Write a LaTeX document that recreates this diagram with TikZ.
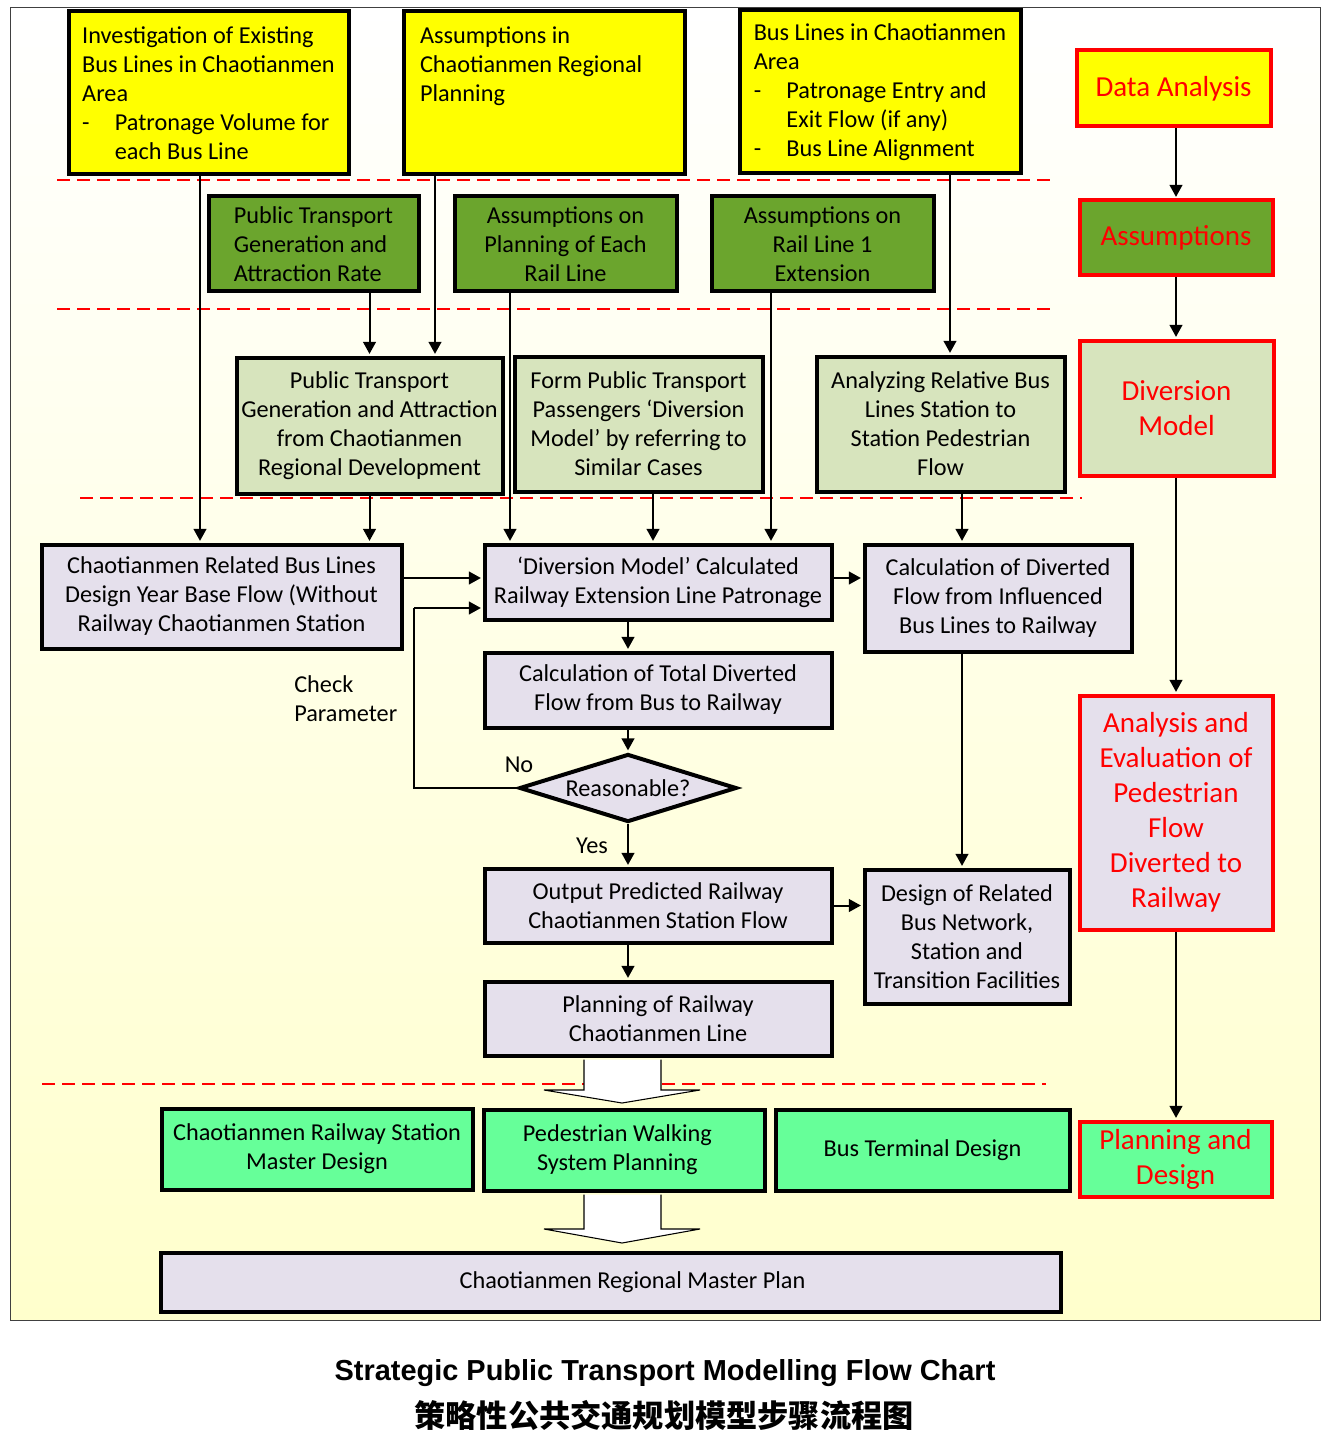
\documentclass[tikz,border=0pt]{standalone}
\usepackage{fontspec}
\setmainfont{Carlito}
\newfontfamily\capfont{Liberation Sans}
\newfontfamily\cjkfont{Noto Sans CJK SC}
\usetikzlibrary{arrows.meta,shapes.geometric,calc}
\definecolor{yel}{RGB}{255,255,0}
\definecolor{dgreen}{RGB}{107,165,45}
\definecolor{lgreen}{RGB}{215,228,189}
\definecolor{lav}{RGB}{229,224,236}
\definecolor{bgreen}{RGB}{102,255,153}
\definecolor{cream}{RGB}{255,255,204}
\newcommand\bx{\fontsize{18.2}{21.75}\selectfont}
\newcommand\rx{\fontsize{21.75}{26.25}\selectfont}
\newcommand\bulx{\makebox[24.5pt][l]{-}}
\newcommand\indx{\hspace*{24.5pt}}
\begin{document}
\begin{tikzpicture}[x=0.75pt,y=-0.75pt,
  box/.style={draw=black, line width=3pt, align=center, inner sep=0pt, font=\bx},
  sz/.style 2 args={minimum width=#1*0.75pt-2.25pt, minimum height=#2*0.75pt-2.25pt},
  ybox/.style={box, fill=yel, align=left},
  gbox/.style={box, fill=dgreen},
  lbox/.style={box, fill=lgreen},
  pbox/.style={box, fill=lav},
  bbox/.style={box, fill=bgreen},
  rbox/.style={box, draw=red, text=red, font=\rx},
  arr/.style={line width=1.5pt, shorten >=1.2pt, -{Triangle[length=9pt,width=9.5pt]}},
  sep/.style={draw=red, line width=1.5pt, dash pattern=on 10pt off 5pt},
  lbl/.style={font=\bx, inner sep=0pt},
  barrow/.style={draw=black, line width=0.8pt, fill=white}
]
\useasboundingbox (0,0) rectangle (1330,1451);
\shade[top color=white, bottom color=cream] (10,8) rectangle (1320,1320);
\draw[line width=0.75pt, black!75] (10,8) rectangle (1320,1320);

% separators
\draw[sep] (57,180) -- (1052,180);
\draw[sep] (57,309) -- (1052,309);
\draw[sep] (80,498) -- (1082,498);
\draw[sep] (42,1084) -- (1046,1084);

% row 1 yellow
\node[ybox, sz={283}{166}] (y1) at (208.5,93) {Investigation of Existing\\Bus Lines in Chaotianmen\\Area\\\bulx Patronage Volume for\\\indx each Bus Line};
\node[ybox, sz={284}{166}] (y2) at (544,93) {Assumptions in\\Chaotianmen Regional\\Planning\\~\\\hspace*{186pt}};
\node[ybox, sz={284}{166}] (y3) at (880,92) {Bus Lines in Chaotianmen\\Area\\\bulx Patronage Entry and\\\indx Exit Flow (if any)\\\bulx Bus Line Alignment};

% row 2 dark green
\node[gbox, sz={213}{98}, align=left] (g1) at (313.5,244) {Public Transport\\Generation and\\Attraction Rate};
\node[gbox, sz={225}{98}] (g2) at (565.5,244) {Assumptions on\\Planning of Each\\Rail Line};
\node[gbox, sz={225}{98}] (g3) at (822.5,244) {Assumptions on\\Rail Line 1\\Extension};

% row 3 light green
\node[lbox, sz={269}{139}] (l1) at (369.5,425.5) {Public Transport\\Generation and Attraction\\from Chaotianmen\\Regional Development};
\node[lbox, sz={251}{138}] (l2) at (638.5,424) {Form Public Transport\\Passengers ‘Diversion\\Model’ by referring to\\Similar Cases};
\node[lbox, sz={251}{138}] (l3) at (940.5,424) {Analyzing Relative Bus\\Lines Station to\\Station Pedestrian\\Flow};

% lavender
\node[pbox, sz={363}{107}] (b1) at (221.5,596.5) {Chaotianmen Related Bus Lines\\Design Year Base Flow (Without\\Railway Chaotianmen Station};
\node[pbox, sz={350}{78}] (b2) at (658,582) {‘Diversion Model’ Calculated\\Railway Extension Line Patronage};
\node[pbox, sz={270}{110}] (b3) at (998,598) {Calculation of Diverted\\Flow from Influenced\\Bus Lines to Railway};
\node[pbox, sz={350}{78}] (b4) at (658,690) {Calculation of Total Diverted\\Flow from Bus to Railway};
\node[diamond, draw=black, line width=3pt, fill=lav, font=\bx, inner sep=0pt, shape aspect=3,
      minimum width=163pt, minimum height=51pt] (dia) at (628,788) {Reasonable?};
\node[pbox, sz={350}{77}] (b5) at (658,905.5) {Output Predicted Railway\\Chaotianmen Station Flow};
\node[pbox, sz={208}{137}] (b6) at (967,936.5) {Design of Related\\Bus Network,\\Station and\\Transition Facilities};
\node[pbox, sz={350}{77}] (b7) at (658,1018.5) {Planning of Railway\\Chaotianmen Line};

% bottom
\node[bbox, sz={314}{84}] (p1) at (317,1149) {Chaotianmen Railway Station\\Master Design};
\node[bbox, sz={284}{84}] (p2) at (624,1150) {Pedestrian Walking\hspace*{10pt}\\System Planning\hspace*{10pt}};
\node[bbox, sz={297}{84}] (p3) at (922.5,1150) {Bus Terminal Design};
\node[pbox, sz={903}{62}] (fin) at (610.5,1282) {\hspace*{33pt}Chaotianmen Regional Master Plan};

% right column
\node[rbox, sz={197}{79}, fill=yel] (r1) at (1173.5,88.5) {Data Analysis};
\node[rbox, sz={196}{78}, fill=dgreen] (r2) at (1176,238) {Assumptions};
\node[rbox, sz={197}{138}, fill=lgreen] (r3) at (1176.5,408) {Diversion\\Model};
\node[rbox, sz={196}{237}, fill=lav] (r4) at (1176,812.5) {Analysis and\\Evaluation of\\Pedestrian\\Flow\\Diverted to\\Railway};
\node[rbox, sz={195}{78}, fill=bgreen] (r5) at (1175.5,1159) {Planning and\\Design};

% labels
\node[lbl, align=left, anchor=west] (chk) at (294,698.5) {Check\\Parameter};
\node[lbl] (no) at (519,765) {No};
\node[lbl] (yes) at (592,846) {Yes};

% connectors
\draw[arr] (200,0 |- y1.south) -- (200,0 |- b1.north);
\draw[arr] (435,0 |- y2.south) -- (435,0 |- l1.north);
\draw[arr] (g1.south -| l1.north) -- (l1.north);
\draw[arr] (510,0 |- g2.south) -- (510,0 |- b2.north);
\draw[arr] (771,0 |- g3.south) -- (771,0 |- b2.north);
\draw[arr] (950,0 |- y3.south) -- (950,0 |- l3.north);
\draw[arr] (l1.south) -- (l1.south |- b1.north);
\draw[arr] (653,0 |- l2.south) -- (653,0 |- b2.north);
\draw[arr] (962,0 |- l3.south) -- (962,0 |- b3.north);
\draw[arr] (b1.east |- 0,578) -- (b2.west |- 0,578);
\draw[arr] (b2.east |- 0,578) -- (b3.west |- 0,578);
\draw[arr] (b2.south -| dia.north) -- (b4.north -| dia.north);
\draw[arr] (b4.south -| dia.north) -- (dia.north);
\draw[line width=1.5pt] (dia.west) -| (414,608);
\draw[arr] (414,608) -- (b2.west |- 0,608);
\draw[arr] (dia.south) -- (dia.south |- b5.north);
\draw[arr] (b5.east) -- (b5.east -| b6.west);
\draw[arr] (b5.south -| dia.south) -- (b7.north -| dia.south);
\draw[arr] (962,0 |- b3.south) -- (962,0 |- b6.north);
\draw[arr] (1176,0 |- r1.south) -- (1176,0 |- r2.north);
\draw[arr] (1176,0 |- r2.south) -- (1176,0 |- r3.north);
\draw[arr] (1176,0 |- r3.south) -- (1176,0 |- r4.north);
\draw[arr] (1176,0 |- r4.south) -- (1176,0 |- r5.north);

% block arrows
\draw[barrow] ($(584,0 |- b7.south)+(0,2)$) -- (584,1090) -- (544,1090) -- (622,1103) -- (700,1090) -- (661,1090) -- ($(661,0 |- b7.south)+(0,2)$);
\draw[barrow] ($(584,0 |- p2.south)+(0,2)$) -- (584,1229) -- (544,1229) -- (622,1243) -- (700,1229) -- (661,1229) -- ($(661,0 |- p2.south)+(0,2)$);

% caption
\node[font=\capfont\bfseries\fontsize{21.7}{26}\selectfont, inner sep=0pt] (cap1) at (665,1373) {Strategic Public Transport Modelling Flow Chart};
\node[font=\cjkfont\bfseries\fontsize{23.4}{28}\selectfont, inner sep=0pt] (cap2) at (664,1415) {策略性公共交通规划模型步骤流程图};
\end{tikzpicture}
\end{document}
